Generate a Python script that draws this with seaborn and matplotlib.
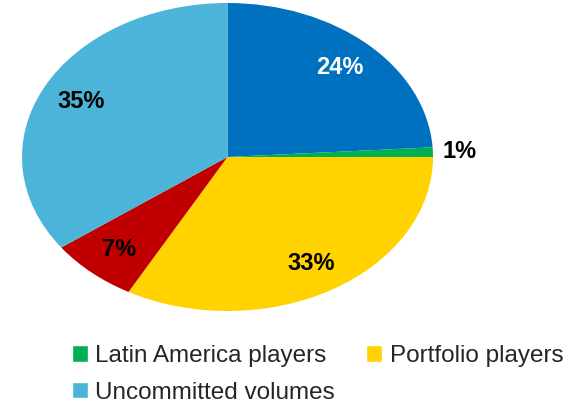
import matplotlib
matplotlib.use("Agg")
import matplotlib.pyplot as plt
from matplotlib.patches import Patch
import numpy as np
import seaborn as sns

# slices, clockwise from 12 o'clock
categories = ["Other players", "Latin America players", "Portfolio players",
              "Remaining players", "Uncommitted volumes"]
shares = [24, 1, 33, 7, 35]
colors = ["#0070C0", "#00B050", "#FFD200", "#C00000", "#4BB4D8"]
label_colors = ["white", "black", "black", "black", "black"]
legend_items = ["Latin America players", "Uncommitted volumes", "Portfolio players"]

sns.set_theme(style="white")
plt.rcParams['font.family'] = ['Liberation Sans', 'DejaVu Sans']

fig = plt.figure(figsize=(5.85, 4.03), dpi=100)
ax = fig.add_axes([22 / 585, 1 - 311 / 403, 411 / 585, 308 / 403])

wedges, texts, autotexts = ax.pie(
    shares, colors=colors, startangle=90, counterclock=False,
    autopct="%d%%", pctdistance=0.8, frame=False,
    textprops=dict(fontsize=17, fontweight="bold"),
    wedgeprops=dict(linewidth=0),
)
# stretch the pie into the wide ellipse of the original
ax.set_aspect("auto")
ax.set_xlim(-1, 1)
ax.set_ylim(-1, 1)

for t, c in zip(autotexts, label_colors):
    t.set_color(c)
    t.set_clip_on(False)

# the 1% slice is labelled outside the pie
w = wedges[1]
mid = np.deg2rad((w.theta1 + w.theta2) / 2)
autotexts[1].set_position((1.13 * np.cos(mid), 1.13 * np.sin(mid)))

handles = [Patch(facecolor=colors[categories.index(n)], label=n) for n in legend_items]
fig.legend(handles=handles, loc="upper left", bbox_to_anchor=(72 / 585, 1 - 345 / 403),
           ncol=2, frameon=False, fontsize=17.5, handlelength=0.65, handleheight=0.65,
           handletextpad=0.3, columnspacing=1.3, labelspacing=0.6, borderaxespad=0,
           borderpad=0)

fig.savefig("out.png", dpi=100)
